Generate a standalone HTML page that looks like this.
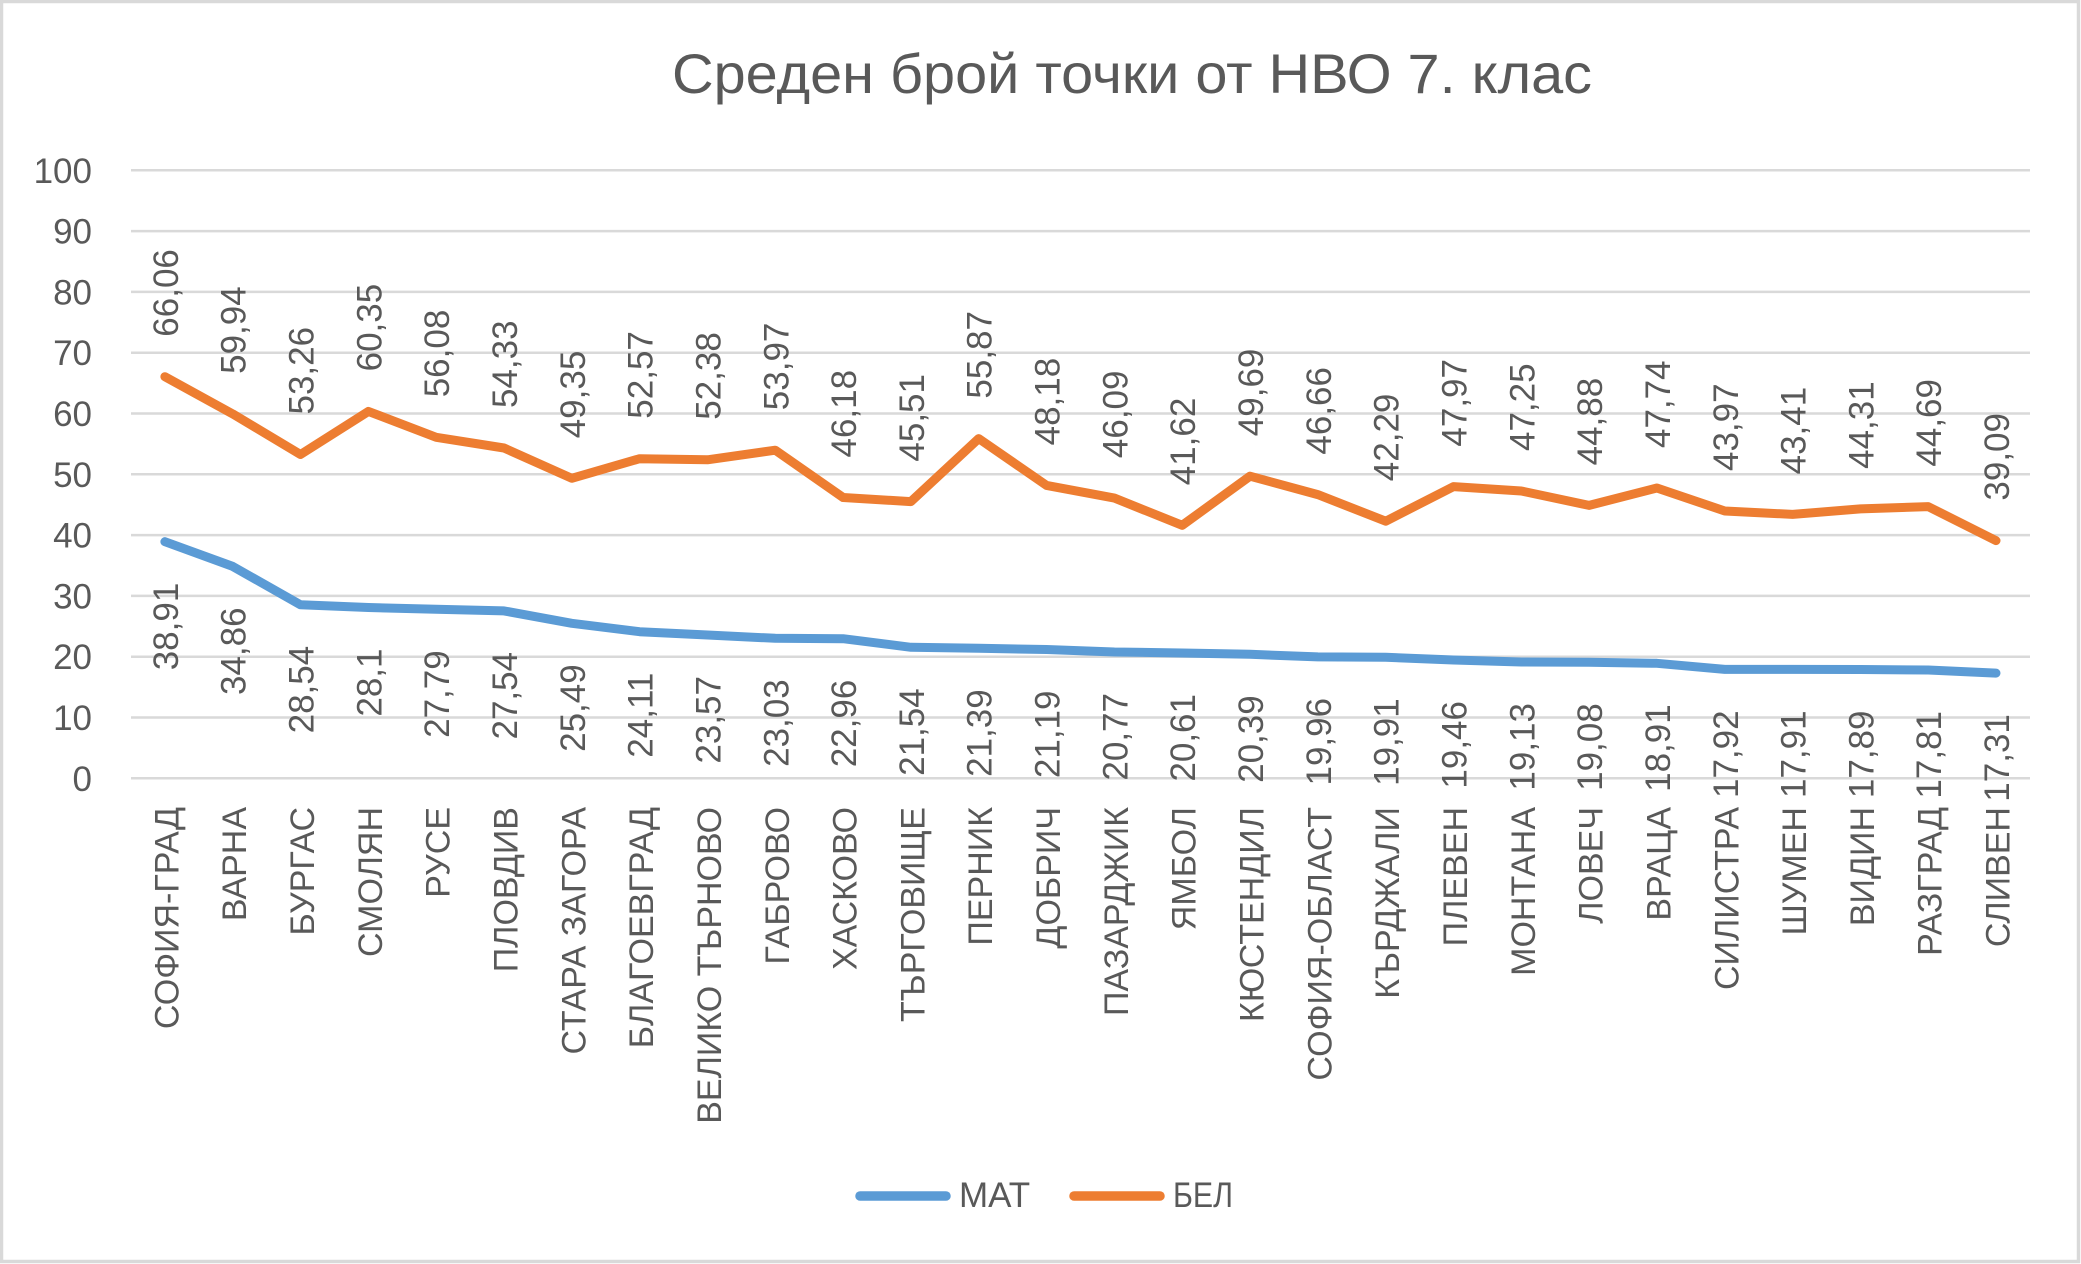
<!DOCTYPE html>
<html>
<head>
<meta charset="utf-8">
<style>
html,body{margin:0;padding:0;background:#fff;}
svg{display:block;}
text{font-family:"Liberation Sans","Noto Sans CJK SC",sans-serif;fill:#595959;}
.n{font-size:35px;}
.c{font-size:34px;}
.y{font-size:35px;text-anchor:end;}
</style>
</head>
<body>
<svg width="2081" height="1264" viewBox="0 0 2081 1264" xmlns="http://www.w3.org/2000/svg">
<rect x="0" y="0" width="2081" height="1264" fill="#fff"/>
<rect x="1.5" y="1.5" width="2077" height="1260" fill="none" stroke="#d9d9d9" stroke-width="3.5"/>

<text x="672" y="93" font-size="56" textLength="920" lengthAdjust="spacingAndGlyphs">Среден брой точки от НВО 7. клас</text>

<g stroke="#d9d9d9" stroke-width="2.5">
<line x1="131" y1="778.3" x2="2030" y2="778.3"/>
<line x1="131" y1="717.5" x2="2030" y2="717.5"/>
<line x1="131" y1="656.7" x2="2030" y2="656.7"/>
<line x1="131" y1="595.9" x2="2030" y2="595.9"/>
<line x1="131" y1="535.1" x2="2030" y2="535.1"/>
<line x1="131" y1="474.3" x2="2030" y2="474.3"/>
<line x1="131" y1="413.5" x2="2030" y2="413.5"/>
<line x1="131" y1="352.7" x2="2030" y2="352.7"/>
<line x1="131" y1="291.9" x2="2030" y2="291.9"/>
<line x1="131" y1="231.1" x2="2030" y2="231.1"/>
<line x1="131" y1="170.3" x2="2030" y2="170.3"/>
</g>

<g class="y">
<text class="y" x="92" y="790.8">0</text>
<text class="y" x="92" y="730">10</text>
<text class="y" x="92" y="669.2">20</text>
<text class="y" x="92" y="608.4">30</text>
<text class="y" x="92" y="547.6">40</text>
<text class="y" x="92" y="486.8">50</text>
<text class="y" x="92" y="426">60</text>
<text class="y" x="92" y="365.2">70</text>
<text class="y" x="92" y="304.4">80</text>
<text class="y" x="92" y="243.6">90</text>
<text class="y" x="92" y="182.8">100</text>
</g>

<polyline fill="none" stroke="#5b9bd5" stroke-width="9" stroke-linejoin="round" stroke-linecap="round" points="164.9,541.7 232.7,566.4 300.5,604.8 368.4,607.5 436.2,609.3 504.0,610.9 571.8,623.3 639.6,631.7 707.5,635.0 775.3,638.3 843.1,638.7 910.9,647.3 978.7,648.3 1046.6,649.5 1114.4,652.0 1182.2,653.0 1250.0,654.3 1317.8,656.9 1385.7,657.3 1453.5,660.0 1521.3,662.0 1589.1,662.3 1656.9,663.3 1724.8,669.4 1792.6,669.4 1860.4,669.5 1928.2,670.0 1996.0,673.1"/>
<polyline fill="none" stroke="#ed7d31" stroke-width="9" stroke-linejoin="round" stroke-linecap="round" points="164.9,376.7 232.7,413.9 300.5,454.5 368.4,411.4 436.2,437.3 504.0,448.0 571.8,478.3 639.6,458.7 707.5,459.8 775.3,450.2 843.1,497.5 910.9,501.6 978.7,438.6 1046.6,485.4 1114.4,498.1 1182.2,525.3 1250.0,476.2 1317.8,494.6 1385.7,521.2 1453.5,486.6 1521.3,491.0 1589.1,505.4 1656.9,488.0 1724.8,511.0 1792.6,514.4 1860.4,508.9 1928.2,506.6 1996.0,540.6"/>

<!-- BEL labels -->
<g class="n">
<text class="n" transform="translate(177.9,336.7) rotate(-90)">66,06</text>
<text class="n" transform="translate(245.7,373.9) rotate(-90)">59,94</text>
<text class="n" transform="translate(313.5,414.5) rotate(-90)">53,26</text>
<text class="n" transform="translate(381.4,371.4) rotate(-90)">60,35</text>
<text class="n" transform="translate(449.2,397.3) rotate(-90)">56,08</text>
<text class="n" transform="translate(517.0,408.0) rotate(-90)">54,33</text>
<text class="n" transform="translate(584.8,438.3) rotate(-90)">49,35</text>
<text class="n" transform="translate(652.6,418.7) rotate(-90)">52,57</text>
<text class="n" transform="translate(720.5,419.8) rotate(-90)">52,38</text>
<text class="n" transform="translate(788.3,410.2) rotate(-90)">53,97</text>
<text class="n" transform="translate(856.1,457.5) rotate(-90)">46,18</text>
<text class="n" transform="translate(923.9,461.6) rotate(-90)">45,51</text>
<text class="n" transform="translate(991.7,398.6) rotate(-90)">55,87</text>
<text class="n" transform="translate(1059.6,445.4) rotate(-90)">48,18</text>
<text class="n" transform="translate(1127.4,458.1) rotate(-90)">46,09</text>
<text class="n" transform="translate(1195.2,485.3) rotate(-90)">41,62</text>
<text class="n" transform="translate(1263.0,436.2) rotate(-90)">49,69</text>
<text class="n" transform="translate(1330.8,454.6) rotate(-90)">46,66</text>
<text class="n" transform="translate(1398.7,481.2) rotate(-90)">42,29</text>
<text class="n" transform="translate(1466.5,446.6) rotate(-90)">47,97</text>
<text class="n" transform="translate(1534.3,451.0) rotate(-90)">47,25</text>
<text class="n" transform="translate(1602.1,465.4) rotate(-90)">44,88</text>
<text class="n" transform="translate(1669.9,448.0) rotate(-90)">47,74</text>
<text class="n" transform="translate(1737.8,471.0) rotate(-90)">43,97</text>
<text class="n" transform="translate(1805.6,474.4) rotate(-90)">43,41</text>
<text class="n" transform="translate(1873.4,468.9) rotate(-90)">44,31</text>
<text class="n" transform="translate(1941.2,466.6) rotate(-90)">44,69</text>
<text class="n" transform="translate(2009.0,500.6) rotate(-90)">39,09</text>
</g>

<!-- MAT labels -->
<g class="n" text-anchor="end">
<text class="n" transform="translate(177.9,582.7) rotate(-90)">38,91</text>
<text class="n" transform="translate(245.7,607.4) rotate(-90)">34,86</text>
<text class="n" transform="translate(313.5,645.8) rotate(-90)">28,54</text>
<text class="n" transform="translate(381.4,648.5) rotate(-90)">28,1</text>
<text class="n" transform="translate(449.2,650.3) rotate(-90)">27,79</text>
<text class="n" transform="translate(517.0,651.9) rotate(-90)">27,54</text>
<text class="n" transform="translate(584.8,664.3) rotate(-90)">25,49</text>
<text class="n" transform="translate(652.6,672.7) rotate(-90)">24,11</text>
<text class="n" transform="translate(720.5,676.0) rotate(-90)">23,57</text>
<text class="n" transform="translate(788.3,679.3) rotate(-90)">23,03</text>
<text class="n" transform="translate(856.1,679.7) rotate(-90)">22,96</text>
<text class="n" transform="translate(923.9,688.3) rotate(-90)">21,54</text>
<text class="n" transform="translate(991.7,689.3) rotate(-90)">21,39</text>
<text class="n" transform="translate(1059.6,690.5) rotate(-90)">21,19</text>
<text class="n" transform="translate(1127.4,693.0) rotate(-90)">20,77</text>
<text class="n" transform="translate(1195.2,694.0) rotate(-90)">20,61</text>
<text class="n" transform="translate(1263.0,695.3) rotate(-90)">20,39</text>
<text class="n" transform="translate(1330.8,697.9) rotate(-90)">19,96</text>
<text class="n" transform="translate(1398.7,698.3) rotate(-90)">19,91</text>
<text class="n" transform="translate(1466.5,701.0) rotate(-90)">19,46</text>
<text class="n" transform="translate(1534.3,703.0) rotate(-90)">19,13</text>
<text class="n" transform="translate(1602.1,703.3) rotate(-90)">19,08</text>
<text class="n" transform="translate(1669.9,704.3) rotate(-90)">18,91</text>
<text class="n" transform="translate(1737.8,710.4) rotate(-90)">17,92</text>
<text class="n" transform="translate(1805.6,710.4) rotate(-90)">17,91</text>
<text class="n" transform="translate(1873.4,710.5) rotate(-90)">17,89</text>
<text class="n" transform="translate(1941.2,711.0) rotate(-90)">17,81</text>
<text class="n" transform="translate(2009.0,714.1) rotate(-90)">17,31</text>
</g>

<!-- Category labels -->
<g class="c" text-anchor="end">
<text class="c" transform="translate(178.4,807) rotate(-90)">СОФИЯ-ГРАД</text>
<text class="c" transform="translate(246.2,807) rotate(-90)">ВАРНА</text>
<text class="c" transform="translate(314.0,807) rotate(-90)">БУРГАС</text>
<text class="c" transform="translate(381.9,807) rotate(-90)">СМОЛЯН</text>
<text class="c" transform="translate(449.7,807) rotate(-90)">РУСЕ</text>
<text class="c" transform="translate(517.5,807) rotate(-90)">ПЛОВДИВ</text>
<text class="c" transform="translate(585.3,807) rotate(-90)">СТАРА ЗАГОРА</text>
<text class="c" transform="translate(653.1,807) rotate(-90)">БЛАГОЕВГРАД</text>
<text class="c" transform="translate(721.0,807) rotate(-90)">ВЕЛИКО ТЪРНОВО</text>
<text class="c" transform="translate(788.8,807) rotate(-90)">ГАБРОВО</text>
<text class="c" transform="translate(856.6,807) rotate(-90)">ХАСКОВО</text>
<text class="c" transform="translate(924.4,807) rotate(-90)">ТЪРГОВИЩЕ</text>
<text class="c" transform="translate(992.2,807) rotate(-90)">ПЕРНИК</text>
<text class="c" transform="translate(1060.1,807) rotate(-90)">ДОБРИЧ</text>
<text class="c" transform="translate(1127.9,807) rotate(-90)">ПАЗАРДЖИК</text>
<text class="c" transform="translate(1195.7,807) rotate(-90)">ЯМБОЛ</text>
<text class="c" transform="translate(1263.5,807) rotate(-90)">КЮСТЕНДИЛ</text>
<text class="c" transform="translate(1331.3,807) rotate(-90)">СОФИЯ-ОБЛАСТ</text>
<text class="c" transform="translate(1399.2,807) rotate(-90)">КЪРДЖАЛИ</text>
<text class="c" transform="translate(1467.0,807) rotate(-90)">ПЛЕВЕН</text>
<text class="c" transform="translate(1534.8,807) rotate(-90)">МОНТАНА</text>
<text class="c" transform="translate(1602.6,807) rotate(-90)">ЛОВЕЧ</text>
<text class="c" transform="translate(1670.4,807) rotate(-90)">ВРАЦА</text>
<text class="c" transform="translate(1738.3,807) rotate(-90)">СИЛИСТРА</text>
<text class="c" transform="translate(1806.1,807) rotate(-90)">ШУМЕН</text>
<text class="c" transform="translate(1873.9,807) rotate(-90)">ВИДИН</text>
<text class="c" transform="translate(1941.7,807) rotate(-90)">РАЗГРАД</text>
<text class="c" transform="translate(2009.5,807) rotate(-90)">СЛИВЕН</text>
</g>

<!-- Legend -->
<line x1="860" y1="1196" x2="946" y2="1196" stroke="#5b9bd5" stroke-width="9.5" stroke-linecap="round"/>
<text x="959" y="1207" font-size="35">МАТ</text>
<line x1="1074" y1="1196" x2="1160" y2="1196" stroke="#ed7d31" stroke-width="9.5" stroke-linecap="round"/>
<text x="1173" y="1207" font-size="35" textLength="60" lengthAdjust="spacingAndGlyphs">БЕЛ</text>
</svg>
</body>
</html>
